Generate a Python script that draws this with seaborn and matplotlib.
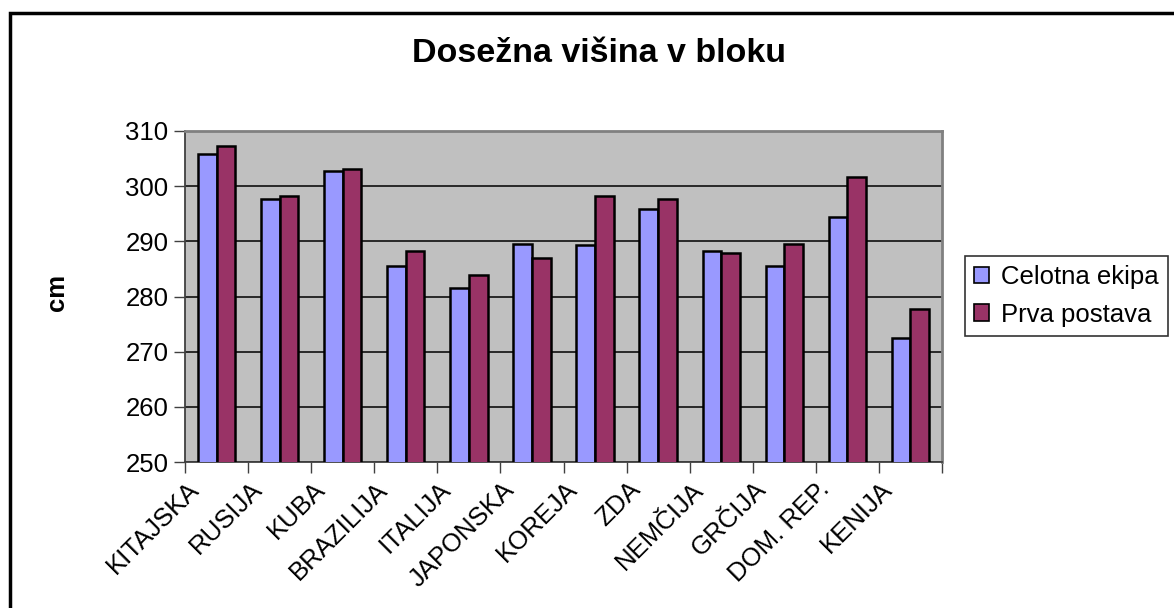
import matplotlib
matplotlib.use("Agg")
import matplotlib.pyplot as plt
import matplotlib.transforms as mtransforms
import seaborn as sns
import pandas as pd
from matplotlib.patches import Rectangle

countries = ["KITAJSKA", "RUSIJA", "KUBA", "BRAZILIJA", "ITALIJA", "JAPONSKA",
             "KOREJA", "ZDA", "NEMČIJA", "GRČIJA", "DOM. REP.", "KENIJA"]
celotna_ekipa = [305.8, 297.6, 302.7, 285.6, 281.5, 289.6, 289.3, 295.9, 288.3, 285.6, 294.5, 272.5]
prva_postava = [307.2, 298.2, 303.1, 288.3, 283.9, 287.0, 298.2, 297.6, 287.9, 289.6, 301.6, 277.7]
series_names = ["Celotna ekipa", "Prva postava"]
y_ticks = [250, 260, 270, 280, 290, 300, 310]

df = pd.DataFrame({
    "country": countries * 2,
    "value": celotna_ekipa + prva_postava,
    "series": [series_names[0]] * len(countries) + [series_names[1]] * len(countries),
})

sns.set_theme(style="white")
plt.rcParams["font.family"] = ["Liberation Sans", "DejaVu Sans"]
plt.rcParams["text.color"] = "black"
plt.rcParams["xtick.color"] = "black"
plt.rcParams["ytick.color"] = "black"

fig = plt.figure(figsize=(11.74, 6.08), dpi=100)
ax = fig.add_axes([185 / 1174, 1 - 462 / 608, (942 - 185) / 1174, (462 - 131) / 608])

sns.barplot(data=df, x="country", y="value", hue="series", order=countries,
            hue_order=series_names, palette=["#9999FF", "#993366"],
            width=0.593, gap=0, edgecolor="black", linewidth=1.8, ax=ax,
            saturation=1, errorbar=None, zorder=3)

ax.set_facecolor("#C0C0C0")
ax.set_ylim(250, 310)
ax.set_xlim(-0.5, len(countries) - 0.5)
ax.set_yticks(y_ticks)
ax.set_yticklabels([str(v) for v in y_ticks], fontsize=18.5, color="black")
ax.yaxis.grid(True, color="black", linewidth=1.1, zorder=1)
ax.set_axisbelow(True)
ax.tick_params(axis="y", direction="out", length=8, width=1, color="#404040",
               pad=4, left=True, labelcolor="black")

ax.set_xticks(range(len(countries)))
ax.set_xticklabels(countries, rotation=45, ha="right", va="top",
                   rotation_mode="anchor", fontsize=18.5, color="black")
ax.tick_params(axis="x", which="major", length=0, pad=11)
offset = mtransforms.ScaledTranslation(-30 / 100, 0, fig.dpi_scale_trans)
for lab in ax.get_xticklabels():
    lab.set_transform(lab.get_transform() + offset)
ax.set_xticks([i - 0.5 for i in range(len(countries) + 1)], minor=True)
ax.tick_params(axis="x", which="minor", direction="out", length=8, width=1,
               color="#404040", bottom=True)

for side in ["top", "right"]:
    ax.spines[side].set_color("#808080")
    ax.spines[side].set_linewidth(2)
for side in ["left", "bottom"]:
    ax.spines[side].set_color("#404040")
    ax.spines[side].set_linewidth(1.3)

ax.set_xlabel("")
ax.set_ylabel("")
fig.text(57 / 1174, 1 - 292 / 608, "cm", rotation=90, ha="center", va="center",
         fontsize=18.5, fontweight="bold", color="black")

fig.text(599 / 1174, 1 - 53 / 608, "Dosežna višina v bloku", ha="center",
         va="center", fontsize=24.5, fontweight="bold", color="black")

leg = ax.legend(loc="center left", bbox_to_anchor=(965 / 1174, 1 - 296 / 608),
                bbox_transform=fig.transFigure, frameon=True, fontsize=18.5,
                handlelength=0.6, handleheight=0.6, handletextpad=0.45,
                borderpad=0.35, labelspacing=0.52, fancybox=False, borderaxespad=0)
leg.get_frame().set_edgecolor("black")
leg.get_frame().set_linewidth(1.2)
for t in leg.get_texts():
    t.set_color("black")
for h in leg.legend_handles:
    h.set_edgecolor("black")
    h.set_linewidth(1.2)

fig.patches.append(Rectangle((10 / 1174, -0.1), 1.2, 1.1 - 13 / 608,
                             transform=fig.transFigure, fill=False,
                             edgecolor="black", linewidth=2.5))

fig.savefig("out.png", dpi=100)
